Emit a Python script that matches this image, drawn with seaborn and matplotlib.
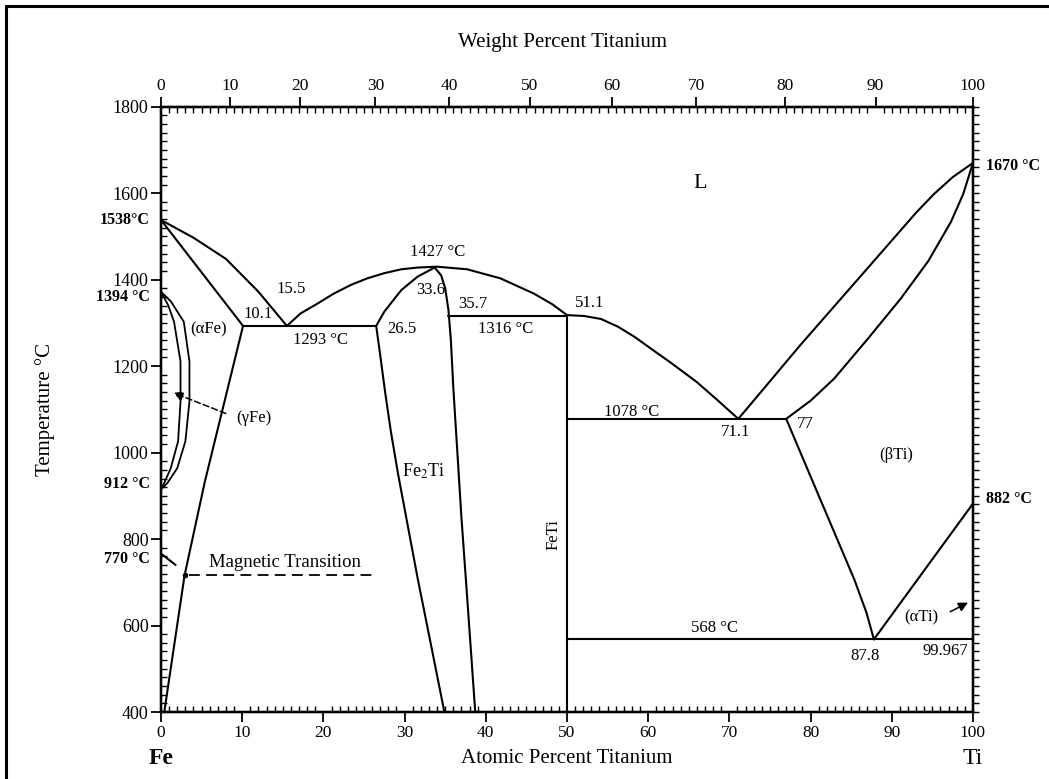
import matplotlib
matplotlib.use("Agg")
import matplotlib.pyplot as plt
from matplotlib.ticker import MultipleLocator
from matplotlib.lines import Line2D
import seaborn as sns

# Fe-Ti phase diagram (atomic % Ti, deg C)
liq_fe_x = [0, 4, 8, 12, 15.5]
liq_fe_t = [1538, 1497, 1448, 1372, 1293]
sol_afe_x = [0, 10.1]
sol_afe_t = [1538, 1293]
solvus_afe_x = [10.1, 5.4, 2.9, 0.4]
solvus_afe_t = [1293, 933, 716, 400]
gamma_out_x = [0, 1.2, 2.8, 3.5, 3.5, 3.0, 2.0, 0.8, 0]
gamma_out_t = [1372, 1350, 1303, 1211, 1118, 1026, 964, 930, 915]
gamma_in_x = [0, 0.9, 1.6, 2.4, 2.4, 2.1, 1.2, 0.4, 0]
gamma_in_t = [1372, 1340, 1303, 1211, 1118, 1026, 964, 930, 915]
magnetic_x = [3.5, 26.0]
magnetic_t = [716, 716]
curie_x = [0.1, 1.8]
curie_t = [765, 740]
eut1_x = [10.1, 26.5]
eut1_t = [1293, 1293]
dome_x = [15.5, 17.2, 19.3, 21.3, 23.4, 25.4, 27.5, 29.6, 31.6, 34.0, 37.7, 41.8, 45.9, 48.2, 50.0,
          52.1, 54.2, 56.3, 58.3, 60.3, 63.0, 66.0, 68.5, 71.1]
dome_t = [1293, 1322, 1345, 1368, 1388, 1403, 1415, 1424, 1428, 1430, 1424, 1403, 1368, 1343, 1318,
          1316, 1309, 1291, 1268, 1241, 1205, 1163, 1122, 1078]
fe2ti_top_x = [26.5, 27.5, 29.6, 31.6, 33.7]
fe2ti_top_t = [1293, 1326, 1376, 1407, 1428]
fe2ti_left_x = [26.5, 27.0, 27.6, 28.3, 29.2, 30.3, 31.6, 33.2, 34.9]
fe2ti_left_t = [1293, 1225, 1140, 1050, 950, 840, 710, 560, 400]
fe2ti_right_x = [33.7, 34.5, 35.0, 35.4, 35.7, 36.0, 36.4, 37.0, 37.8, 38.7]
fe2ti_right_t = [1428, 1410, 1380, 1330, 1260, 1150, 1030, 850, 640, 400]
eut2_x = [35.4, 50.0]
eut2_t = [1316, 1316]
feti_x = [50, 50]
feti_t = [400, 1316]
eut3_x = [50, 77]
eut3_t = [1078, 1078]
liq_ti_x = [71.1, 75.0, 78.8, 87.0, 93.0, 95.2, 97.5, 100]
liq_ti_t = [1078, 1165, 1250, 1426, 1555, 1598, 1637, 1670]
sol_ti_x = [77, 80.0, 82.9, 87.0, 91.1, 94.5, 97.3, 98.8, 100]
sol_ti_t = [1078, 1120, 1171, 1262, 1356, 1443, 1534, 1598, 1670]
solvus_bti_x = [77, 80.2, 82.8, 85.4, 86.9, 87.8]
solvus_bti_t = [1078, 936, 821, 706, 629, 568]
ati_x = [87.8, 100]
ati_t = [568, 882]
eut4_x = [50, 100]
eut4_t = [568, 568]

# weight-percent scale on top (positions in atomic %)
wt_pos = [0, 8.5, 17.1, 26.4, 35.5, 45.4, 55.5, 65.9, 76.8, 88.0, 100]
wt_labels = ["0", "10", "20", "30", "40", "50", "60", "70", "80", "90", "100"]

# text labels inside the diagram
labels = [
    ("L", 66.4, 1622, 16),
    ("1427 °C", 34.1, 1463, 12),
    ("33.6", 33.2, 1376, 12),
    ("35.7", 38.4, 1343, 12),
    ("1316 °C", 42.4, 1287, 12),
    ("26.5", 29.7, 1285, 12),
    ("51.1", 52.8, 1345, 12),
    ("15.5", 16.0, 1379, 12),
    ("10.1", 12.0, 1320, 12),
    ("1293 °C", 19.7, 1261, 12),
    ("(αFe)", 5.9, 1285, 12),
    ("(γFe)", 11.4, 1079, 12),
    ("Fe$_2$Ti", 32.3, 957, 13),
    ("1078 °C", 57.9, 1094, 12),
    ("71.1", 70.8, 1047, 12),
    ("77", 79.4, 1066, 12),
    ("(βTi)", 90.5, 994, 12),
    ("568 °C", 68.2, 595, 12),
    ("87.8", 86.7, 530, 12),
    ("99.967", 96.6, 541, 12),
    ("(αTi)", 93.6, 618, 12),
]
left_marks = [("1538°C", 1538), ("1394 °C", 1360), ("912 °C", 928), ("770 °C", 753)]
right_marks = [("1670 °C", 1662), ("882 °C", 893)]

sns.set_theme(style="ticks", rc={"axes.edgecolor": "black", "xtick.color": "black",
                                 "ytick.color": "black", "text.color": "black"})
plt.rcParams["font.family"] = ["Liberation Serif", "DejaVu Serif"]
plt.rcParams["mathtext.fontset"] = "stix"

fig = plt.figure(figsize=(10.49, 7.79), dpi=100)
ax = fig.add_axes([0.1535, 0.086, 0.774, 0.777])


def boundary(xs, ts, **kw):
    kw.setdefault("lw", 1.5)
    sns.lineplot(x=xs, y=ts, sort=False, estimator=None, color="black", ax=ax, **kw)


for xs, ts in [(liq_fe_x, liq_fe_t), (sol_afe_x, sol_afe_t), (solvus_afe_x, solvus_afe_t),
               (eut1_x, eut1_t), (dome_x, dome_t), (fe2ti_top_x, fe2ti_top_t),
               (fe2ti_left_x, fe2ti_left_t), (fe2ti_right_x, fe2ti_right_t), (eut2_x, eut2_t),
               (feti_x, feti_t), (eut3_x, eut3_t), (liq_ti_x, liq_ti_t), (sol_ti_x, sol_ti_t),
               (solvus_bti_x, solvus_bti_t), (ati_x, ati_t), (eut4_x, eut4_t), (curie_x, curie_t)]:
    boundary(xs, ts)
boundary(gamma_out_x, gamma_out_t, lw=1.3)
boundary(gamma_in_x, gamma_in_t, lw=1.3)
boundary(magnetic_x, magnetic_t, lw=1.3, linestyle=(0, (6, 3.5)))
ax.plot([2.9], [716], "o", color="black", ms=3)

# arrows
ax.annotate("", xy=(1.2, 1141), xytext=(8.3, 1088),
            arrowprops=dict(arrowstyle="-|>", color="black", lw=1.1, linestyle=(0, (4, 2)),
                            mutation_scale=14))
ax.annotate("", xy=(99.7, 656), xytext=(96.9, 629),
            arrowprops=dict(arrowstyle="-|>", color="black", lw=1.1, mutation_scale=14))

for txt, x, t, size in labels:
    ax.text(x, t, txt, ha="center", va="center", fontsize=size)
ax.text(15.3, 726, "Magnetic Transition", ha="center", va="bottom", fontsize=13.5)
ax.text(48.3, 810, "FeTi", ha="center", va="center", rotation=90, fontsize=12)

for txt, t in left_marks:
    ax.text(-1.4, t, txt, ha="right", va="center", fontsize=11.5, fontweight="bold", clip_on=False)
for txt, t in right_marks:
    ax.text(101.6, t, txt, ha="left", va="center", fontsize=11.5, fontweight="bold", clip_on=False)

# axes and ticks
ax.set_xlim(0, 100)
ax.set_ylim(400, 1800)
ax.set_xlabel("")
ax.set_ylabel("")
ax.xaxis.set_major_locator(MultipleLocator(10))
ax.xaxis.set_minor_locator(MultipleLocator(1))
ax.yaxis.set_major_locator(MultipleLocator(200))
ax.yaxis.set_minor_locator(MultipleLocator(20))
ax.tick_params(which="major", direction="out", length=7, width=1.3, pad=2)
ax.tick_params(which="minor", direction="in", length=4, width=1.0)
ax.tick_params(axis="x", labelsize=12.5)
ax.tick_params(axis="y", labelsize=13)
for s in ax.spines.values():
    s.set_linewidth(1.6)

ax_t = ax.twiny()
ax_t.set_xlim(0, 100)
ax_t.set_xticks(wt_pos)
ax_t.set_xticklabels(wt_labels)
ax_t.xaxis.set_minor_locator(MultipleLocator(1))
ax_t.tick_params(which="major", direction="out", length=7, width=1.3, pad=2, labelsize=12.5)
ax_t.tick_params(which="minor", direction="in", length=4, width=1.0)

ax_r = ax.twinx()
ax_r.set_ylim(400, 1800)
ax_r.yaxis.set_major_locator(MultipleLocator(200))
ax_r.yaxis.set_minor_locator(MultipleLocator(20))
ax_r.tick_params(axis="y", which="both", direction="out", length=4, width=1.0, labelright=False)
for a in (ax_t, ax_r):
    for s in a.spines.values():
        s.set_linewidth(1.6)

# axis titles and element names
ax.text(0, 292, "Fe", ha="center", va="center", fontsize=17, fontweight="bold", clip_on=False)
ax.text(100, 292, "Ti", ha="center", va="center", fontsize=17, clip_on=False)
ax.text(50, 292, "Atomic Percent Titanium", ha="center", va="center", fontsize=15, clip_on=False)
fig.text(563 / 1049, 1 - 43 / 779, "Weight Percent Titanium", ha="center", va="center", fontsize=15)
fig.text(45 / 1049, 1 - 410 / 779, "Temperature °C", ha="center", va="center", rotation=90,
         fontsize=15)

# frame of the scanned page
fig.add_artist(Line2D([6 / 1049, 1], [1 - 6 / 779, 1 - 6 / 779], transform=fig.transFigure,
                      color="black", lw=2.2))
fig.add_artist(Line2D([6 / 1049, 6 / 1049], [0, 1 - 6 / 779], transform=fig.transFigure,
                      color="black", lw=2.2))

fig.savefig("out.png", dpi=100, facecolor="white")
